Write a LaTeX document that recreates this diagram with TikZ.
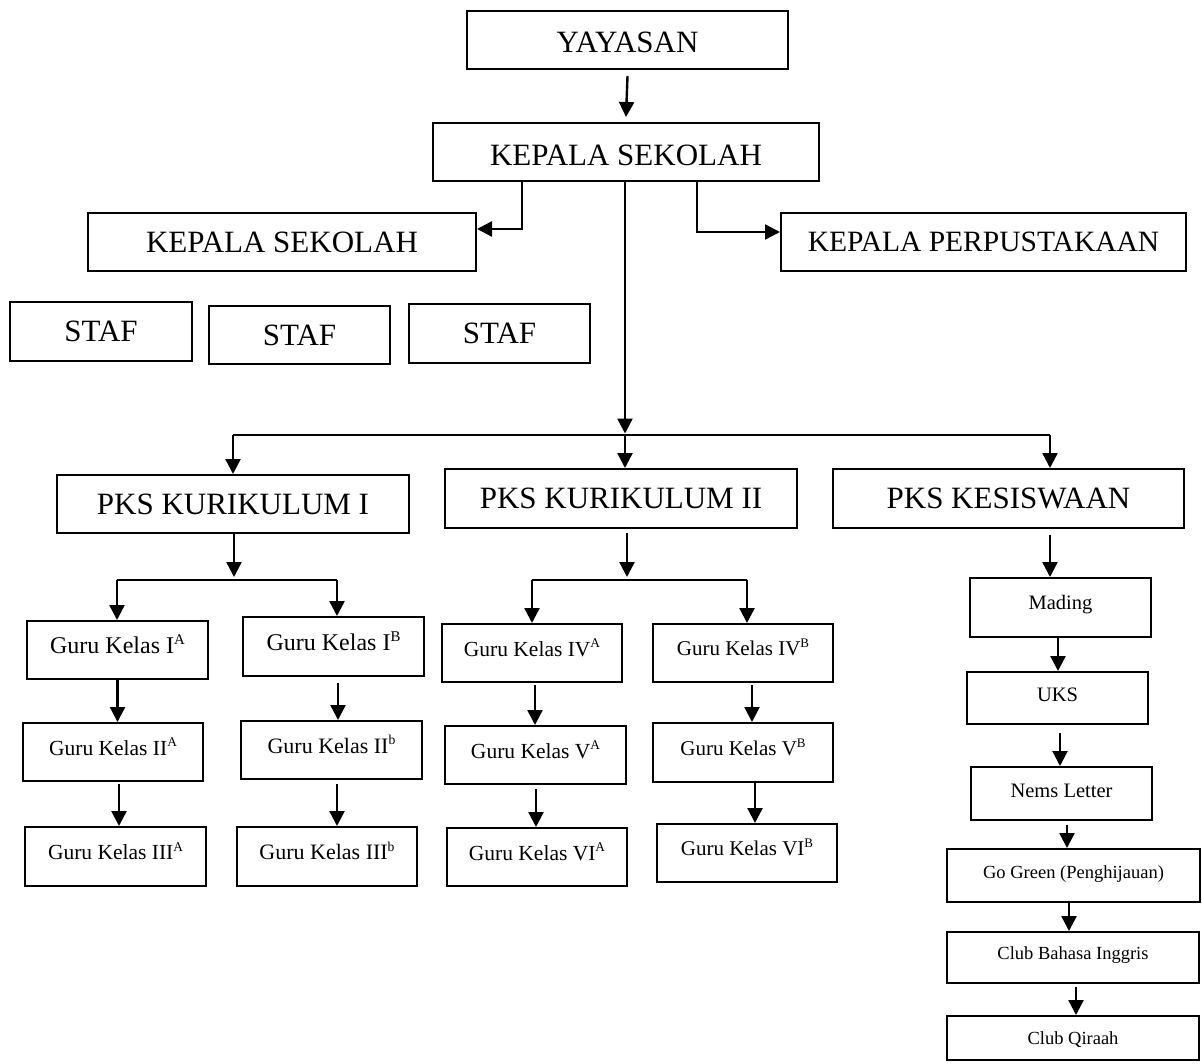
\documentclass[tikz,border=0pt]{standalone}
\usepackage{fontspec}
\setmainfont{Liberation Serif}
\usetikzlibrary{arrows.meta}
\tikzset{
  boxst/.style={draw=black, line width=2pt, inner sep=0pt, rectangle},
  arr/.style={line width=2.4pt, -{Triangle[length=15pt,width=15pt]}},
  ln/.style={line width=2.2pt},
}
\newcommand\sups[1]{\raisebox{0.38em}{\fontsize{\mkSS}{\mkSS}\selectfont #1}}
% #1 name, #2 x1, #3 y1, #4 x2, #5 y2, #6 font size, #7 text shift up, #8 text
\newcommand\mkbox[8]{%
  \pgfmathsetmacro\mkBW{#4-#2}%
  \pgfmathsetmacro\mkBH{#5-#3}%
  \pgfmathsetmacro\mkCX{(#2+#4)/2}%
  \pgfmathsetmacro\mkCY{(#3+#5)/2}%
  \pgfmathsetmacro\mkTY{(#3+#5)/2+0.331*#6-#7}%
  \pgfmathsetmacro\mkSS{0.62*#6}%
  \node[boxst, minimum width=\mkBW pt, minimum height=\mkBH pt] (#1) at (\mkCX,\mkCY) {};
  \node[anchor=base, inner sep=0pt, font=\fontsize{#6}{#6}\selectfont] (#1-t) at (\mkCX,\mkTY) {#8};
}
% #1 from, #2 to, #3 xshift, #4 start gap
\newcommand\varr[4]{%
  \draw[arr] ([xshift=#3pt,yshift=-#4pt]#1.south) -- ([xshift=#3pt]#1.south |- #2.north);
}
\begin{document}
\begin{tikzpicture}[x=1pt,y=-1pt]
\fill[white] (0,0) rectangle (1202,1063);
\useasboundingbox (0,0) rectangle (1202,1063);

% top levels
\mkbox{yay}{467}{11}{788}{69}{31}{-2}{YAYASAN}
\mkbox{ks}{433}{123}{819}{181}{31}{-3}{KEPALA SEKOLAH}
\mkbox{ks2}{88}{213}{476}{271}{31}{0}{KEPALA SEKOLAH}
\mkbox{kp}{781}{213}{1186}{271}{29.5}{0}{KEPALA PERPUSTAKAAN}
\mkbox{staf1}{10}{302}{192}{361}{31}{0}{STAF}
\mkbox{staf2}{209}{306}{390}{364}{31}{0}{STAF}
\mkbox{staf3}{409}{304}{590}{363}{31}{0}{STAF}

% PKS
\mkbox{k1}{57}{475}{409}{533}{31}{0}{PKS KURIKULUM I}
\mkbox{k2}{445}{469}{797}{528}{31}{0}{PKS KURIKULUM II}
\mkbox{kes}{833}{469}{1184}{528}{31}{0}{PKS KESISWAAN}

% Guru kelas
\mkbox{g1a}{27}{621}{208}{679}{24}{4}{Guru Kelas I\sups{A}}
\mkbox{g1b}{243}{617}{424}{676}{24}{4}{Guru Kelas I\sups{B}}
\mkbox{g2a}{23}{723}{203}{781}{21.5}{4}{Guru Kelas II\sups{A}}
\mkbox{g2b}{241}{721}{422}{779}{22}{4}{Guru Kelas II\sups{b}}
\mkbox{g3a}{25}{827}{206}{886}{21.5}{4}{Guru Kelas III\sups{A}}
\mkbox{g3b}{237}{827}{417}{886}{22}{4}{Guru Kelas III\sups{b}}
\mkbox{g4a}{442}{624}{622}{682}{21.5}{4}{Guru Kelas IV\sups{A}}
\mkbox{g4b}{653}{624}{833}{682}{21}{4}{Guru Kelas IV\sups{B}}
\mkbox{g5a}{445}{726}{626}{784}{21.5}{4}{Guru Kelas V\sups{A}}
\mkbox{g5b}{653}{723}{833}{782}{21}{4}{Guru Kelas V\sups{B}}
\mkbox{g6a}{447}{828}{627}{886}{21.5}{4}{Guru Kelas VI\sups{A}}
\mkbox{g6b}{657}{824}{837}{882}{21}{4}{Guru Kelas VI\sups{B}}

% Kesiswaan column
\mkbox{mad}{970}{578}{1151}{637}{20.5}{5}{Mading}
\mkbox{uks}{967}{672}{1148}{724}{20.5}{3}{UKS}
\mkbox{nems}{971}{767}{1152}{820}{20.5}{2.5}{Nems Letter}
\mkbox{gg}{947}{849}{1200}{902}{18.5}{3}{Go Green (Penghijauan)}
\mkbox{cbi}{947}{932}{1199}{983}{18.5}{4}{Club Bahasa Inggris}
\mkbox{cq}{947}{1016}{1199}{1060}{18.5}{0}{Club Qiraah}

% connectors
\draw[arr] ([yshift=-6pt]yay.south) -- ([yshift=5pt]ks.north);

\coordinate (eL) at (522,229);
\coordinate (eR) at (697,232);
\draw[arr] (ks.south -| eL) -- (eL) -- (ks2.east |- eL);
\draw[arr] (ks.south -| eR) -- (eR) -- (kp.west |- eR);

\coordinate (hub) at (625,435);
\coordinate (hL) at (233,435);
\coordinate (hR) at (1050,435);
\draw[arr] (ks.south -| hub) -- ([yshift=1.5pt]hub);
\draw[ln] (hL) -- (hR);
\draw[arr] (hL) -- (hL |- k1.north);
\draw[arr] (hub) -- (hub |- k2.north);
\draw[arr] (hR) -- (hR |- kes.north);

\coordinate (b1L) at (117,580);
\coordinate (b1R) at (337,580);
\coordinate (b1M) at (234,580);
\draw[arr] (k1.south -| b1M) -- ([yshift=3pt]b1M);
\draw[ln] (b1L) -- (b1R);
\draw[arr] (b1L) -- (b1L |- g1a.north);
\draw[arr] (b1R) -- (b1R |- g1b.north);

\coordinate (b2L) at (532,580);
\coordinate (b2R) at (747,580);
\coordinate (b2M) at (627,580);
\draw[arr] ([yshift=-4pt]k2.south -| b2M) -- ([yshift=3pt]b2M);
\draw[ln] (b2L) -- (b2R);
\draw[arr] (b2L) -- (b2L |- g4a.north);
\draw[arr] (b2R) -- (b2R |- g4b.north);

\draw[arr] ([yshift=-6pt]kes.south -| hR) -- (hR |- mad.north);

\varr{g1a}{g2a}{0}{0}
\varr{g2a}{g3a}{6}{2}
\varr{g1b}{g2b}{4.5}{6}
\varr{g2b}{g3b}{5.5}{4}
\varr{g4a}{g5a}{3}{2}
\varr{g5a}{g6a}{0.5}{4}
\varr{g4b}{g5b}{9}{2}
\varr{g5b}{g6b}{12}{0}
\varr{mad}{uks}{-2.5}{0}
\varr{uks}{nems}{2.5}{8}
\varr{nems}{gg}{5.5}{4}
\varr{gg}{cbi}{-4.5}{0}
\varr{cbi}{cq}{3}{3}
\end{tikzpicture}
\end{document}
